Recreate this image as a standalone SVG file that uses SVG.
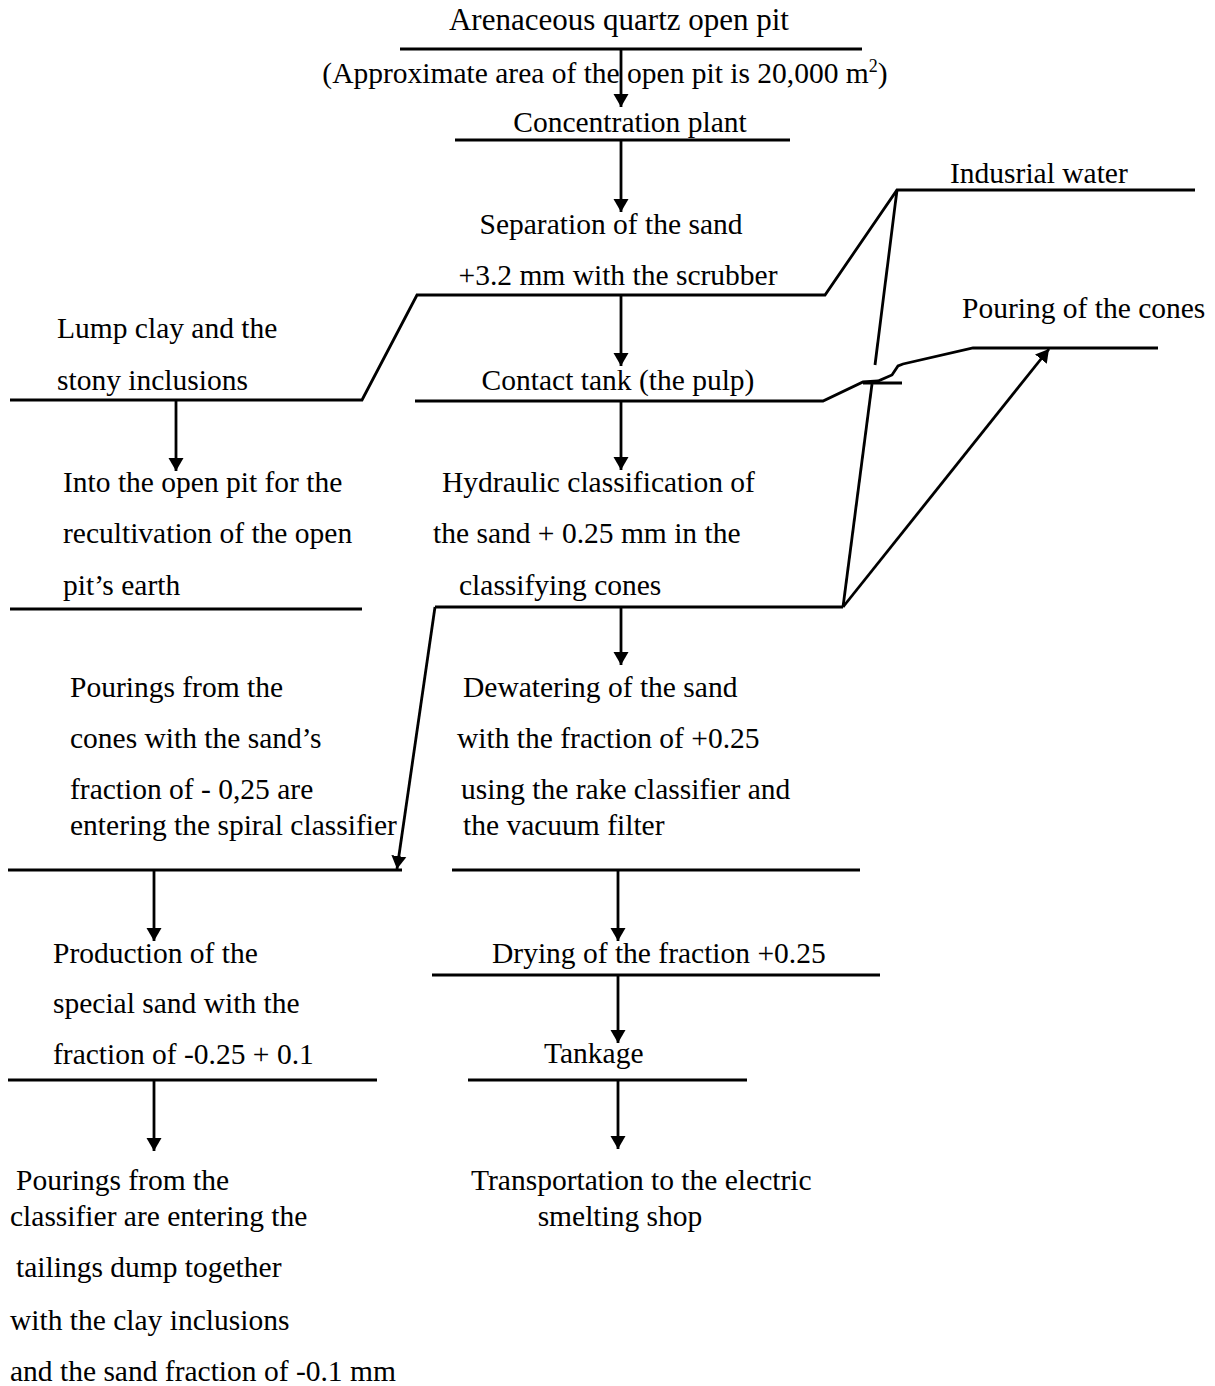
<svg xmlns="http://www.w3.org/2000/svg" width="1215" height="1386" viewBox="0 0 1215 1386">
  <style>
    text { font-family: "Liberation Serif", "Times New Roman", serif; font-size: 29.5px; fill: #000; }
    .title { font-size: 31px; }
  </style>
  <defs>
    <!-- solid triangular arrowhead, tip sits on the line end -->
    <marker id="tip" viewBox="0 0 13 16" refX="13" refY="8" markerWidth="13" markerHeight="16" markerUnits="userSpaceOnUse" orient="auto">
      <path d="M0,0.5 L13,8 L0,15.5 Z" fill="#000"/>
    </marker>
  </defs>
  <rect width="1215" height="1386" fill="#fff"/>

  <!-- connectors -->
  <g id="connectors" stroke="#000" stroke-width="2.8" fill="none">
    <!-- horizontal separator rules and side branches -->
    <line x1="400" y1="49" x2="862" y2="49"/>
    <line x1="455" y1="140" x2="790" y2="140"/>
    <polyline points="10,400 362,400 417,295 825,295 897,190 1195,190"/>
    <polyline points="415,401 823,401 863,382 878,381 892,375 898,366 903,364 973,348 1158,348"/>
    <line x1="863" y1="383" x2="902" y2="383"/>
    <line x1="10" y1="609" x2="362" y2="609"/>
    <line x1="435" y1="607" x2="843" y2="607"/>
    <line x1="8" y1="870" x2="402" y2="870"/>
    <line x1="452" y1="870" x2="860" y2="870"/>
    <line x1="432" y1="975" x2="880" y2="975"/>
    <line x1="8" y1="1080" x2="377" y2="1080"/>
    <line x1="468" y1="1080" x2="747" y2="1080"/>
    <!-- industrial water feed to the cones, broken where it crosses the pulp line -->
    <line x1="897" y1="190" x2="875" y2="365"/>
    <line x1="872" y1="384" x2="843" y2="607"/>
    <!-- flow arrows -->
    <g marker-end="url(#tip)">
      <line x1="621" y1="49" x2="621" y2="107"/>
      <line x1="621" y1="140" x2="621" y2="212"/>
      <line x1="621" y1="295" x2="621" y2="366"/>
      <line x1="621" y1="401" x2="621" y2="470"/>
      <line x1="176" y1="400" x2="176" y2="471"/>
      <line x1="621" y1="607" x2="621" y2="665"/>
      <line x1="435" y1="607" x2="397" y2="869"/>
      <line x1="843" y1="607" x2="1049" y2="349"/>
      <line x1="618" y1="870" x2="618" y2="941"/>
      <line x1="154" y1="870" x2="154" y2="941"/>
      <line x1="618" y1="975" x2="618" y2="1043"/>
      <line x1="154" y1="1080" x2="154" y2="1151"/>
      <line x1="618" y1="1080" x2="618" y2="1149"/>
    </g>
  </g>

  <!-- nodes -->
  <g id="open-pit">
    <text class="title" x="619" y="30" text-anchor="middle">Arenaceous quartz open pit</text>
    <text x="605" y="83" text-anchor="middle">(Approximate area of the open pit is 20,000 m<tspan font-size="18" dy="-11">2</tspan><tspan dy="11">)</tspan></text>
  </g>
  <g id="concentration-plant">
    <text x="630" y="132" text-anchor="middle">Concentration plant</text>
  </g>
  <g id="separation">
    <text x="611" y="234" text-anchor="middle">Separation of the sand</text>
    <text x="618" y="285" text-anchor="middle">+3.2 mm with the scrubber</text>
  </g>
  <g id="industrial-water">
    <text x="950" y="183">Indusrial water</text>
  </g>
  <g id="pouring-cones">
    <text x="962" y="318">Pouring of the cones</text>
  </g>
  <g id="lump-clay">
    <text x="57" y="338">Lump clay and the</text>
    <text x="57" y="390">stony inclusions</text>
  </g>
  <g id="contact-tank">
    <text x="618" y="390" text-anchor="middle">Contact tank (the pulp)</text>
  </g>
  <g id="into-open-pit">
    <text x="63" y="492">Into the open pit for the</text>
    <text x="63" y="543">recultivation of the open</text>
    <text x="63" y="595">pit’s earth</text>
  </g>
  <g id="hydraulic-classification">
    <text x="442" y="492">Hydraulic classification of</text>
    <text x="433" y="543">the sand + 0.25 mm in the</text>
    <text x="459" y="595">classifying cones</text>
  </g>
  <g id="pourings-cones">
    <text x="70" y="697">Pourings from the</text>
    <text x="70" y="748">cones with the sand’s</text>
    <text x="70" y="799">fraction of - 0,25 are</text>
    <text x="70" y="835">entering the spiral classifier</text>
  </g>
  <g id="dewatering">
    <text x="463" y="697">Dewatering of the sand</text>
    <text x="457" y="748">with the fraction of +0.25</text>
    <text x="461" y="799">using the rake classifier and</text>
    <text x="463" y="835">the vacuum filter</text>
  </g>
  <g id="special-sand">
    <text x="53" y="963">Production of the</text>
    <text x="53" y="1013">special sand with the</text>
    <text x="53" y="1064">fraction of -0.25 + 0.1</text>
  </g>
  <g id="drying">
    <text x="492" y="963">Drying of the fraction +0.25</text>
  </g>
  <g id="tankage">
    <text x="544" y="1063">Tankage</text>
  </g>
  <g id="tailings">
    <text x="16" y="1190">Pourings from the</text>
    <text x="10" y="1226">classifier are entering the</text>
    <text x="16" y="1277">tailings dump together</text>
    <text x="10" y="1330">with the clay inclusions</text>
    <text x="10" y="1381">and the sand fraction of -0.1 mm</text>
  </g>
  <g id="transportation">
    <text x="471" y="1190">Transportation to the electric</text>
    <text x="620" y="1226" text-anchor="middle">smelting shop</text>
  </g>
</svg>
